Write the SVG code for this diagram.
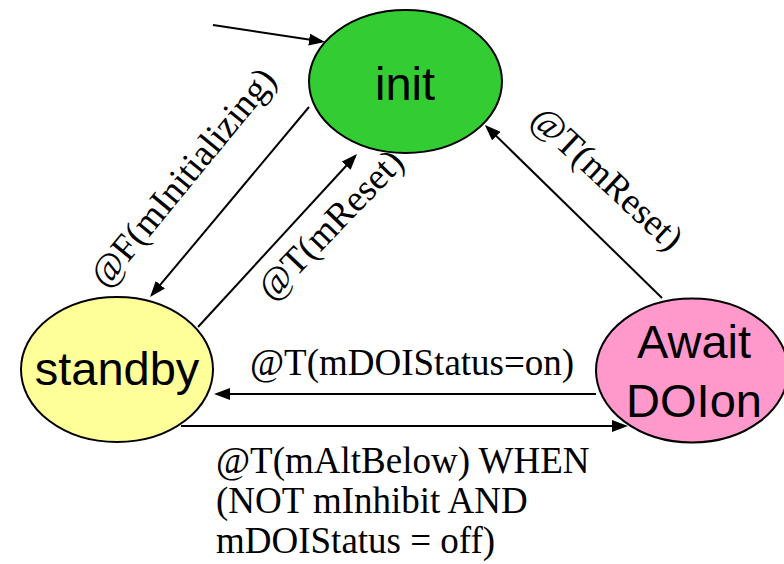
<svg xmlns="http://www.w3.org/2000/svg" width="784" height="564" viewBox="0 0 784 564">
<style>
.node{stroke:#000;stroke-width:2}
.ntxt{font-family:"Liberation Sans",Arial,sans-serif;font-size:47px;fill:#000;text-anchor:middle}
.etxt{font-family:"Liberation Serif","Times New Roman",serif;font-size:37px;fill:#000}
.conn{stroke:#000;stroke-width:2;fill:none;marker-end:url(#arr)}
</style>
<defs>
<marker id="arr" markerUnits="userSpaceOnUse" markerWidth="16" markerHeight="12" refX="13" refY="6" orient="auto">
<path d="M0,0 L16,6 L0,12 z" fill="#000"/>
</marker>
</defs>
<rect width="784" height="564" fill="#fff"/>
<g id="connectors">
<line class="conn" x1="213" y1="25" x2="322" y2="41.5"/>
<line class="conn" x1="309" y1="107" x2="152" y2="294.7"/>
<line class="conn" x1="198" y1="327" x2="355" y2="156.2"/>
<line class="conn" x1="662" y1="298" x2="487" y2="127"/>
<line class="conn" x1="596" y1="394" x2="217" y2="394"/>
<line class="conn" x1="181" y1="426" x2="625" y2="426"/>
</g>
<g id="init">
<ellipse class="node" cx="405.5" cy="81.5" rx="96.5" ry="71.5" fill="#33CC33"/>
<text class="ntxt" x="405" y="100">init</text>
</g>
<g id="standby">
<ellipse class="node" cx="117" cy="369.5" rx="96" ry="72.5" fill="#FFFF99"/>
<text class="ntxt" x="117" y="385">standby</text>
</g>
<g id="awaitDOIon">
<ellipse class="node" cx="692" cy="370.5" rx="96" ry="72" fill="#FF99CC"/>
<text class="ntxt" x="694" y="358">Await</text>
<text class="ntxt" x="694" y="417">DOIon</text>
</g>
<g id="labels">
<text class="etxt" text-anchor="middle" transform="translate(192,185) rotate(-50.6)">@F(mInitializing)</text>
<text class="etxt" text-anchor="middle" transform="translate(339,233) rotate(-46)">@T(mReset)</text>
<text class="etxt" text-anchor="middle" transform="translate(599,187) rotate(43)">@T(mReset)</text>
<text class="etxt" x="250" y="375">@T(mDOIStatus=on)</text>
<text class="etxt" x="216" y="473">@T(mAltBelow) WHEN</text>
<text class="etxt" x="216" y="513">(NOT mInhibit AND</text>
<text class="etxt" x="216" y="553">mDOIStatus = off)</text>
</g>
</svg>
